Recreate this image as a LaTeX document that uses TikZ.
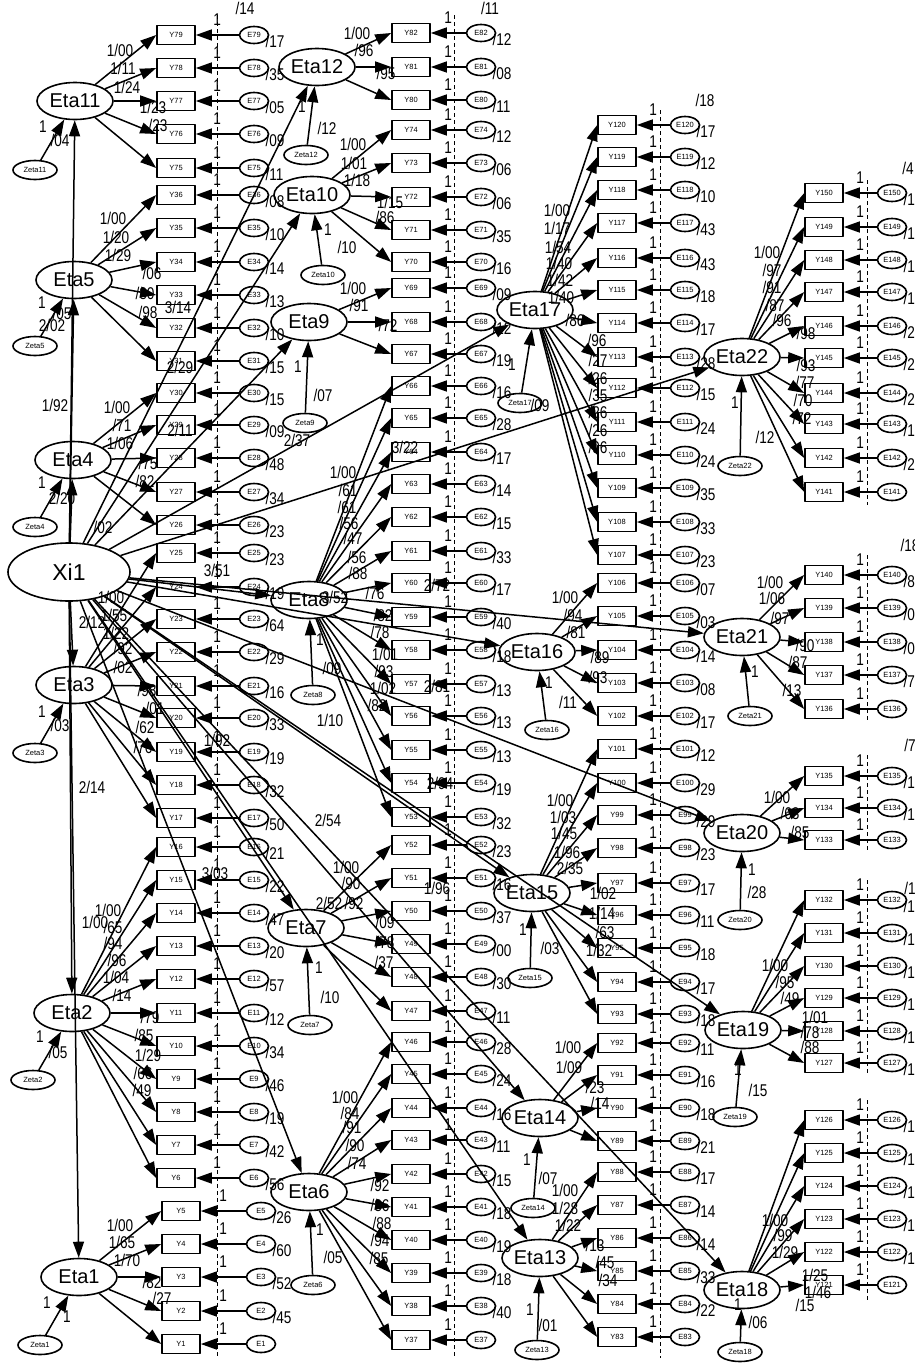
\documentclass[tikz,border=0pt]{standalone}
\usepackage{fontspec}
\setmainfont{Liberation Sans}
\newfontfamily\narrowfont[FakeStretch=0.8]{Liberation Sans}
\usetikzlibrary{shapes.geometric,arrows.meta,calc}

\newcommand{\latfont}{\fontsize{20}{20}\selectfont}
\newcommand{\labfont}{\narrowfont\fontsize{17}{17}\selectfont}
\newcommand{\tinyfont}{\fontsize{7.5}{8}\selectfont}

\tikzset{
  lat/.style={ellipse, draw, line width=1.6pt, minimum width=76pt, minimum height=37pt, inner sep=0pt, font=\latfont},
  xi/.style={lat, minimum width=122pt, minimum height=58pt, font=\fontsize{23}{23}\selectfont},
  obs/.style={rectangle, draw, line width=1.6pt, minimum width=38pt, minimum height=19pt, inner sep=0pt, font=\tinyfont},
  err/.style={ellipse, draw, line width=1.6pt, minimum width=29pt, minimum height=17pt, inner sep=0pt, font=\tinyfont},
  dist/.style={ellipse, draw, line width=1.6pt, minimum width=44pt, minimum height=19pt, inner sep=0pt, font=\tinyfont},
  arr/.style={-{Triangle[length=16pt,width=11pt]}, line width=1.5pt},
  ld/.style={font=\labfont, inner sep=0pt},
  guide/.style={dash pattern=on 4pt off 3pt, line width=0.8pt}
}

% indicator: number, x of Y, x of E, y, variance
\newcommand{\indic}[5]{%
  \node[obs] (y#1) at (#2,#4) {Y#1};
  \node[err] (e#1) at (#3,#4) {E#1};
  \draw[arr] (e#1) -- (y#1);
  \node[ld] (one#1) at ($(y#1.east)!.5!(e#1.west)+(0,-15)$) {1};
  \node[ld, anchor=west] (var#1) at ([xshift=-4pt,yshift=-6pt]e#1.east) {#5};
}

\begin{document}
\begin{tikzpicture}[x=1pt, y=-1pt, line join=round]
\useasboundingbox (0,0) rectangle (915,1366);

% guide lines
\draw[guide] (217,15) -- (217,1358);
\draw[guide] (454,15) -- (454,1358);
\draw[guide] (660,110) -- (660,1358);
\draw[guide] (867,180) -- (867,505);
\draw[guide] (867,555) -- (867,720);
\draw[guide] (867,755) -- (867,850);
\draw[guide] (867,880) -- (867,1075);
\draw[guide] (867,1100) -- (867,1300);

% latent variables
\node[xi] (xi1) at (69,572) {Xi1};
\foreach \n/\x/\y in {11/75/101, 5/74/280, 4/73/460, 3/74/685, 2/72/1013, 1/79/1277,
    12/317/67, 10/312/195, 9/309/322, 8/309/600, 7/306/928, 6/309/1192,
    17/535/310, 16/537/652, 15/532/893, 14/540/1118, 13/540/1258,
    22/742/357, 21/742/637, 20/742/833, 19/743/1030, 18/742/1290}
  \node[lat] (eta\n) at (\x,\y) {Eta\n};

% disturbances
\foreach \n/\x/\y/\v/\ax/\ay/\bx/\by in {
    11/35/170/{/04}/43/127/60/140, 5/35/346/{/05}/42/303/62/313, 4/35/527/{2/20}/42/483/62/498,
    3/35/753/{/03}/42/712/60/725, 2/33/1080/{/05}/40/1037/58/1052, 1/40/1345/{1}/47/1303/67/1317,
    12/306/155/{/12}/302/107/327/128, 10/323/275/{/10}/328/230/347/247, 9/305/423/{/07}/298/367/323/395,
    8/313/695/{}/320/640/340/660, 7/310/1025/{/10}/319/968/330/997, 6/313/1285/{/05}/320/1230/333/1257,
    17/520/403/{/09}/512/365/540/405, 16/547/730/{/11}/549/683/568/702, 15/530/978/{/03}/523/930/550/948,
    14/533/1208/{/07}/527/1160/548/1178, 13/537/1350/{/01}/530/1310/548/1325,
    22/740/466/{/12}/735/403/765/437, 21/750/716/{/13}/755/672/792/690, 20/740/920/{/28}/752/870/757/892,
    19/735/1117/{/15}/738/1070/758/1090, 18/740/1352/{/06}/738/1305/758/1322} {
  \node[dist] (zeta\n) at (\x,\y) {Zeta\n};
  \draw[arr] (zeta\n) -- (eta\n);
  \node[ld] (zo\n) at (\ax,\ay) {1};
  \node[ld] (zv\n) at (\bx,\by) {\v};
}

% structural paths
\foreach \n in {1,...,22}
  \draw[arr] (xi1) -- (eta\n);
\foreach \t/\x/\y [count=\i] in {{2/02}/52/325, {1/92}/55/405, {/02}/103/527, {2/12}/92/622,
    {2/14}/92/787, {1/00}/95/922, {3/14}/178/307, {2/29}/180/367, {2/11}/180/430,
    {2/37}/297/440, {3/22}/405/447, {3/51}/217/570, {3/52}/335/597, {/09}/332/668,
    {1/10}/330/720, {1/92}/217/740, {2/54}/328/820, {3/03}/215/873, {2/52}/329/903,
    {2/72}/437/585, {2/81}/437/686, {2/94}/440/783, {1/96}/437/888,
    {/14}/245/8, {/11}/490/8, {/18}/705/100, {/4}/908/168, {/18}/910/545, {/7}/910/745, {/1}/910/888}
  \node[ld] (s\i) at (\x,\y) {\t};

% indicators, first column
\foreach \n/\y/\v in {79/35/{/17}, 78/68/{/35}, 77/101/{/05}, 76/134/{/09}, 75/168/{/11},
    36/195/{/08}, 35/228/{/10}, 34/262/{/14}, 33/295/{/13}, 32/328/{/10}, 31/361/{/15},
    30/393/{/15}, 29/425/{/09}, 28/458/{/48}, 27/492/{/34}, 26/525/{/23},
    25/553/{/23}, 24/587/{/19}, 23/619/{/64}, 22/652/{/29}, 21/686/{/16}, 20/718/{/33},
    19/752/{/19}, 18/785/{/32}, 17/818/{/50},
    16/847/{/21}, 15/880/{/22}, 14/913/{/47}, 13/946/{/20}, 12/979/{/57}, 11/1013/{/12},
    10/1046/{/34}, 9/1079/{/46}, 8/1112/{/19}, 7/1145/{/42}, 6/1178/{/56}}
  {\indic{\n}{176}{254}{\y}{\v}}
\foreach \n/\y/\v in {5/1211/{/26}, 4/1244/{/60}, 3/1277/{/52}, 2/1311/{/45}, 1/1344/{}}
  {\indic{\n}{181}{261}{\y}{\v}}

% indicators, second column
\foreach \n/\y/\v in {82/33/{/12}, 81/67/{/08}, 80/100/{/11},
    74/130/{/12}, 73/163/{/06}, 72/197/{/06}, 71/230/{/35}, 70/262/{/16},
    69/288/{/09}, 68/322/{/12}, 67/354/{/19},
    66/386/{/16}, 65/418/{/28}, 64/452/{/17}, 63/484/{/14}, 62/517/{/15}, 61/551/{/33},
    60/583/{/17}, 59/617/{/40}, 58/650/{/18}, 57/684/{/13}, 56/716/{/13}, 55/750/{/13},
    54/783/{/19}, 53/817/{/32},
    52/845/{/23}, 51/878/{/16}, 50/911/{/37}, 49/944/{/00}, 48/977/{/30}, 47/1011/{/11},
    46/1042/{/28}, 45/1074/{/24}, 44/1108/{/16}, 43/1140/{/11}, 42/1174/{/15}, 41/1207/{/18},
    40/1240/{/19}, 39/1273/{/18}, 38/1306/{/40}, 37/1340/{}}
  {\indic{\n}{411}{481}{\y}{\v}}

% indicators, third column
\foreach \n/\y/\v in {120/125/{/17}, 119/157/{/12}, 118/190/{/10}, 117/223/{/43}, 116/258/{/43},
    115/290/{/18}, 114/323/{/17}, 113/357/{/28}, 112/388/{/15}, 111/422/{/24}, 110/455/{/24},
    109/488/{/35}, 108/522/{/33}, 107/555/{/23},
    106/583/{/07}, 105/616/{/03}, 104/650/{/14}, 103/683/{/08}, 102/716/{/17},
    101/749/{/12}, 100/783/{/29}, 99/815/{/29}, 98/848/{/23}, 97/883/{/17}, 96/915/{/11},
    95/948/{/18}, 94/982/{/17}, 93/1014/{/18},
    92/1043/{/11}, 91/1075/{/16}, 90/1108/{/18}, 89/1141/{/21},
    88/1172/{/17}, 87/1205/{/14}, 86/1238/{/14}, 85/1271/{/33}, 84/1304/{/22}, 83/1337/{}}
  {\indic{\n}{617}{685}{\y}{\v}}

% indicators, fourth column
\foreach \n/\y/\v in {150/193/{/18}, 149/227/{/10}, 148/260/{/10}, 147/292/{/10}, 146/326/{/20},
    145/358/{/20}, 144/393/{/20}, 143/424/{/10}, 142/458/{/20}, 141/492/{},
    140/575/{/88}, 139/608/{/06}, 138/642/{/09}, 137/675/{/75}, 136/709/{},
    135/776/{/10}, 134/808/{/10}, 133/840/{},
    132/900/{/12}, 131/933/{/12}, 130/966/{/12}, 129/998/{/12}, 128/1031/{/12}, 127/1063/{/12},
    126/1120/{/12}, 125/1153/{/12}, 124/1186/{/12}, 123/1219/{/12}, 122/1252/{/12}, 121/1285/{}}
  {\indic{\n}{824}{892}{\y}{\v}}

% loadings
\foreach \f/\n/\t/\x/\y in {
    11/79/{1/00}/120/50, 11/78/{1/11}/123/68, 11/77/{1/24}/127/87, 11/76/{1/23}/153/107, 11/75/{/23}/158/125,
    5/36/{1/00}/113/218, 5/35/{1/20}/116/237, 5/34/{1/29}/118/255, 5/33/{/06}/152/273, 5/32/{/80}/145/293, 5/31/{/98}/148/312,
    4/30/{1/00}/117/407, 4/29/{/71}/122/425, 4/28/{1/06}/120/443, 4/27/{/75}/148/463, 4/26/{/82}/145/481,
    3/25/{1/00}/111/597, 3/24/{1/55}/114/615, 3/23/{1/22}/116/633, 3/22/{/92}/123/648, 3/21/{/02}/123/667,
    3/20/{/98}/147/690, 3/19/{/01}/155/708, 3/18/{/62}/145/727, 3/17/{/76}/143/747,
    2/16/{1/00}/108/910, 2/15/{/65}/113/927, 2/14/{/94}/113/943, 2/13/{/96}/117/960, 2/12/{1/04}/116/977,
    2/11/{/14}/122/995, 2/10/{/79}/150/1017, 2/9/{/85}/144/1035, 2/8/{1/29}/148/1055, 2/7/{/66}/143/1073, 2/6/{/49}/142/1090,
    1/5/{1/00}/120/1225, 1/4/{1/65}/122/1242, 1/3/{1/70}/127/1260, 1/2/{/82}/152/1282, 1/1/{/27}/162/1298,
    12/82/{1/00}/357/33, 12/81/{/96}/364/50, 12/80/{/95}/386/73,
    10/74/{1/00}/353/144, 10/73/{1/01}/354/163, 10/72/{1/18}/357/180, 10/71/{1/15}/390/202, 10/70/{/86}/385/217,
    9/69/{1/00}/353/288, 9/68/{/91}/359/305, 9/67/{/72}/388/325,
    8/66/{1/00}/343/472, 8/65/{/61}/348/490, 8/64/{/61}/347/507, 8/63/{/56}/349/523, 8/62/{/47}/353/538,
    8/61/{/56}/357/557, 8/60/{/88}/358/573, 8/59/{/76}/375/593, 8/58/{/82}/383/615, 8/57/{/78}/380/632,
    8/56/{1/01}/385/654, 8/55/{/93}/384/671, 8/54/{1/02}/383/688, 8/53/{/82}/377/705,
    7/52/{1/00}/346/867, 7/51/{/90}/351/883, 7/50/{/92}/354/903, 7/49/{/09}/385/922, 7/48/{/78}/385/942, 7/47/{/37}/384/962,
    6/46/{1/00}/345/1097, 6/45/{/84}/350/1113, 6/44/{/91}/352/1127, 6/43/{/90}/355/1145, 6/42/{/74}/357/1163,
    6/41/{/92}/380/1185, 6/40/{/86}/380/1205, 6/39/{/88}/382/1223, 6/38/{/94}/380/1240, 6/37/{/85}/379/1258,
    17/120/{1/00}/557/210, 17/119/{1/17}/557/228, 17/118/{1/54}/558/247, 17/117/{1/40}/559/263, 17/116/{1/42}/560/280,
    17/115/{1/40}/561/297, 17/114/{/86}/575/320, 17/113/{/96}/597/340, 17/112/{/27}/598/360, 17/111/{/26}/598/378,
    17/110/{/35}/598/395, 17/109/{/26}/598/412, 17/108/{/26}/598/430, 17/107/{/96}/598/447,
    16/106/{1/00}/565/597, 16/105/{/94}/573/615, 16/104/{/81}/576/632, 16/103/{/89}/600/657, 16/102/{/93}/598/677,
    15/101/{1/00}/560/800, 15/100/{1/03}/563/817, 15/99/{1/45}/564/833, 15/98/{1/96}/567/852, 15/97/{2/35}/570/868,
    15/96/{1/02}/603/893, 15/95/{1/14}/602/913, 15/94/{/63}/605/932, 15/93/{1/32}/599/950,
    14/92/{1/00}/568/1047, 14/91/{1/09}/569/1067, 14/90/{/23}/595/1087, 14/89/{/14}/600/1103,
    13/88/{1/00}/565/1190, 13/87/{1/28}/565/1208, 13/86/{1/22}/568/1225, 13/85/{/13}/595/1245, 13/84/{/45}/605/1262, 13/83/{/34}/608/1280,
    22/150/{1/00}/767/252, 22/149/{/97}/772/270, 22/148/{/91}/772/287, 22/147/{/87}/775/305, 22/146/{/96}/782/320,
    22/145/{/98}/806/333, 22/144/{/93}/806/365, 22/143/{/77}/805/382, 22/142/{/70}/803/400, 22/141/{/72}/802/418,
    21/140/{1/00}/770/582, 21/139/{1/06}/772/598, 21/138/{/97}/780/618, 21/137/{/90}/805/645, 21/136/{/87}/798/662,
    20/135/{1/00}/777/797, 20/134/{/63}/790/813, 20/133/{/85}/800/832,
    19/132/{1/00}/775/965, 19/131/{/95}/785/982, 19/130/{/49}/790/998, 19/129/{1/01}/815/1017, 19/128/{/78}/810/1032, 19/127/{/88}/810/1047,
    18/126/{1/00}/775/1220, 18/125/{/99}/783/1235, 18/124/{1/29}/785/1252, 18/123/{1/25}/815/1275, 18/122/{1/46}/818/1292, 18/121/{/15}/805/1305} {
  \draw[arr] (eta\f) -- (y\n.west);
  \node[ld] (l\n) at (\x,\y) {\t};
}
\end{tikzpicture}
\end{document}
